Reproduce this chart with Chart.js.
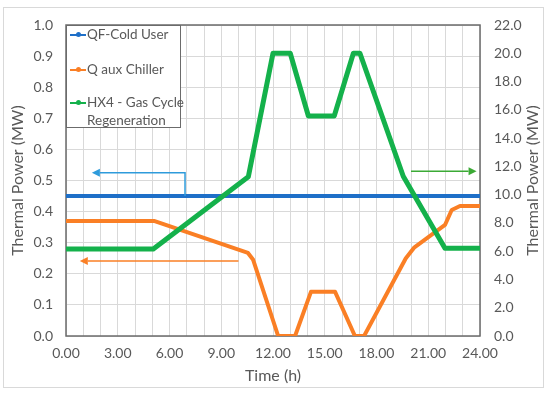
<!DOCTYPE html>
<html>
<head>
<meta charset="utf-8">
<script src="https://cdn.jsdelivr.net/npm/chart.js@4.4.0/dist/chart.umd.min.js"></script>
<style>
  html, body { margin: 0; padding: 0; background: #fff; }
  #wrap { position: relative; width: 550px; height: 394px; }
  #legend {
    position: absolute; left: 66px; top: 25px; width: 115px; height: 103px;
    box-sizing: border-box; border: 1px solid #6b6b6b; background: #fff;
    font-family: Lato, sans-serif; font-size: 13.5px; color: #595959;
  }
  .item { position: absolute; left: 20px; line-height: 18px; white-space: nowrap; }
  .mark { position: absolute; left: 3px; width: 16px; height: 2px; }
  .mark::after {
    content: ''; position: absolute; left: 6px; top: -2px; width: 5px; height: 5px;
    border-radius: 50%; background: inherit;
  }
</style>
</head>
<body>
<div id="wrap">
  <canvas id="myChart" width="550" height="394"></canvas>
  <div id="legend">
    <span class="mark" style="top:8px;background:#1E6FC8"></span>
    <div class="item" style="top:-1px">QF-Cold User</div>
    <span class="mark" style="top:43px;background:#FA7F25"></span>
    <div class="item" style="top:34px">Q aux Chiller</div>
    <span class="mark" style="top:76px;background:#14B14B"></span>
    <div class="item" style="top:67px">HX4 - Gas Cycle<br>Regeneration</div>
  </div>
</div>
<script>
  // time axis (h)
  const coldUserTime = [0, 24];
  const coldUserMW = [0.45, 0.45];

  const chillerTime = [0, 5.1, 10.55, 10.85, 12.3, 13.28, 14.2, 15.6, 16.75, 17.28, 19.7, 20.2, 21.97, 22.36, 22.84, 24];
  const chillerMW = [0.37, 0.37, 0.267, 0.245, 0, 0, 0.142, 0.142, 0, 0, 0.25, 0.285, 0.357, 0.405, 0.418, 0.418];

  const regenTime = [0, 5.06, 10.57, 12.0, 13.0, 14.05, 15.55, 16.66, 17.04, 19.55, 21.97, 24];
  const regenMW = [6.15, 6.15, 11.27, 20, 20, 15.56, 15.56, 20, 20, 11.3, 6.2, 6.2];

  // arrows pointing to the axis each series belongs to (data coordinates, left axis)
  const arrows = [
    { color: '#2E9BDB', pts: [[6.9, 0.45], [6.9, 0.525], [1.5, 0.525]] },
    { color: '#FA7F25', pts: [[10.0, 0.241], [0.8, 0.241]] },
    { color: '#3BAA35', pts: [[20.0, 0.53], [23.8, 0.53]] }
  ];

  const textColor = '#595959';
  const gridColor = '#D9D9D9';
  const font = { family: 'Lato, sans-serif', size: 14 };
  const titleFont = { family: 'Lato, sans-serif', size: 16 };

  function toPoints(xs, ys) {
    return xs.map((x, i) => ({ x: x, y: ys[i] }));
  }

  const framePlugin = {
    id: 'frame',
    beforeDraw(chart) {
      const ctx = chart.ctx;
      ctx.save();
      ctx.fillStyle = '#fff';
      ctx.fillRect(0, 0, chart.width, chart.height);
      ctx.strokeStyle = '#D9D9D9';
      ctx.lineWidth = 1;
      ctx.strokeRect(3.5, 7.5, 540, 380);
      ctx.restore();
    },
    beforeDatasetsDraw(chart) {
      const a = chart.chartArea;
      const ctx = chart.ctx;
      ctx.save();
      ctx.strokeStyle = '#6b6b6b';
      ctx.lineWidth = 1.5;
      ctx.strokeRect(a.left, a.top, a.right - a.left, a.bottom - a.top);
      ctx.restore();
    },
    afterDatasetsDraw(chart) {
      const ctx = chart.ctx;
      const xs = chart.scales.x;
      const ys = chart.scales.y;
      arrows.forEach(arr => {
        const p = arr.pts.map(q => [xs.getPixelForValue(q[0]), ys.getPixelForValue(q[1])]);
        ctx.save();
        ctx.strokeStyle = arr.color;
        ctx.fillStyle = arr.color;
        ctx.lineWidth = 1.5;
        const last = p[p.length - 1];
        const prev = p[p.length - 2];
        const ang = Math.atan2(last[1] - prev[1], last[0] - prev[0]);
        const len = 8;
        ctx.beginPath();
        ctx.moveTo(p[0][0], p[0][1]);
        for (let i = 1; i < p.length - 1; i++) ctx.lineTo(p[i][0], p[i][1]);
        ctx.lineTo(last[0] - Math.cos(ang) * len, last[1] - Math.sin(ang) * len);
        ctx.stroke();
        ctx.beginPath();
        ctx.moveTo(last[0], last[1]);
        ctx.lineTo(last[0] - Math.cos(ang) * len - Math.sin(ang) * 4, last[1] - Math.sin(ang) * len + Math.cos(ang) * 4);
        ctx.lineTo(last[0] - Math.cos(ang) * len + Math.sin(ang) * 4, last[1] - Math.sin(ang) * len - Math.cos(ang) * 4);
        ctx.closePath();
        ctx.fill();
        ctx.restore();
      });
    },
    afterDraw(chart) {
      // right axis title reads bottom-to-top like the left one
      const a = chart.chartArea;
      const ctx = chart.ctx;
      ctx.save();
      ctx.translate(533, (a.top + a.bottom) / 2);
      ctx.rotate(-Math.PI / 2);
      ctx.fillStyle = textColor;
      ctx.font = titleFont.size + 'px ' + titleFont.family;
      ctx.textAlign = 'center';
      ctx.textBaseline = 'middle';
      ctx.fillText('Thermal Power (MW)', 0, 0);
      ctx.restore();
    }
  };

  const ctx = document.getElementById('myChart').getContext('2d');
  const myChart = new Chart(ctx, {
    type: 'line',
    data: {
      datasets: [
        {
          label: 'QF-Cold User',
          data: toPoints(coldUserTime, coldUserMW),
          borderColor: '#1E6FC8',
          backgroundColor: '#1E6FC8',
          borderWidth: 4,
          pointRadius: 0,
          yAxisID: 'y',
          order: 1
        },
        {
          label: 'Q aux Chiller',
          data: toPoints(chillerTime, chillerMW),
          borderColor: '#FA7F25',
          backgroundColor: '#FA7F25',
          borderWidth: 4,
          pointRadius: 0,
          borderJoinStyle: 'round',
          yAxisID: 'y',
          order: 2
        },
        {
          label: 'HX4 - Gas Cycle Regeneration',
          data: toPoints(regenTime, regenMW),
          borderColor: '#14B14B',
          backgroundColor: '#14B14B',
          borderWidth: 5,
          pointRadius: 0,
          borderJoinStyle: 'round',
          yAxisID: 'y1',
          order: 0
        }
      ]
    },
    options: {
      responsive: false,
      animation: false,
      layout: { padding: { top: 25, left: 0, right: 0, bottom: 0 } },
      plugins: { legend: { display: false }, tooltip: { enabled: false } },
      scales: {
        x: {
          type: 'linear',
          min: 0,
          max: 24,
          afterFit: s => { s.height = 58; },
          ticks: {
            stepSize: 1,
            autoSkip: false,
            maxRotation: 0,
            padding: 9,
            color: textColor,
            font: font,
            callback: v => (v % 3 === 0 ? v.toFixed(2) : '')
          },
          grid: { color: gridColor, drawTicks: false },
          border: { display: false },
          title: { display: true, text: 'Time (h)', color: textColor, font: titleFont, padding: { top: 0, bottom: 9 } }
        },
        y: {
          position: 'left',
          min: 0,
          max: 1,
          afterFit: s => { s.width = 66; },
          ticks: { stepSize: 0.1, padding: 13, color: textColor, font: font, callback: v => v.toFixed(1) },
          grid: { color: gridColor, drawTicks: false },
          border: { display: false },
          title: { display: true, text: 'Thermal Power (MW)', color: textColor, font: titleFont, padding: { top: 8, bottom: 0 } }
        },
        y1: {
          position: 'right',
          min: 0,
          max: 22,
          afterFit: s => { s.width = 70; },
          ticks: { stepSize: 2, padding: 14, color: textColor, font: font, callback: v => v.toFixed(1) },
          grid: { drawOnChartArea: false, drawTicks: false },
          border: { display: false },
          title: { display: false }
        }
      }
    },
    plugins: [framePlugin]
  });
</script>
</body>
</html>
